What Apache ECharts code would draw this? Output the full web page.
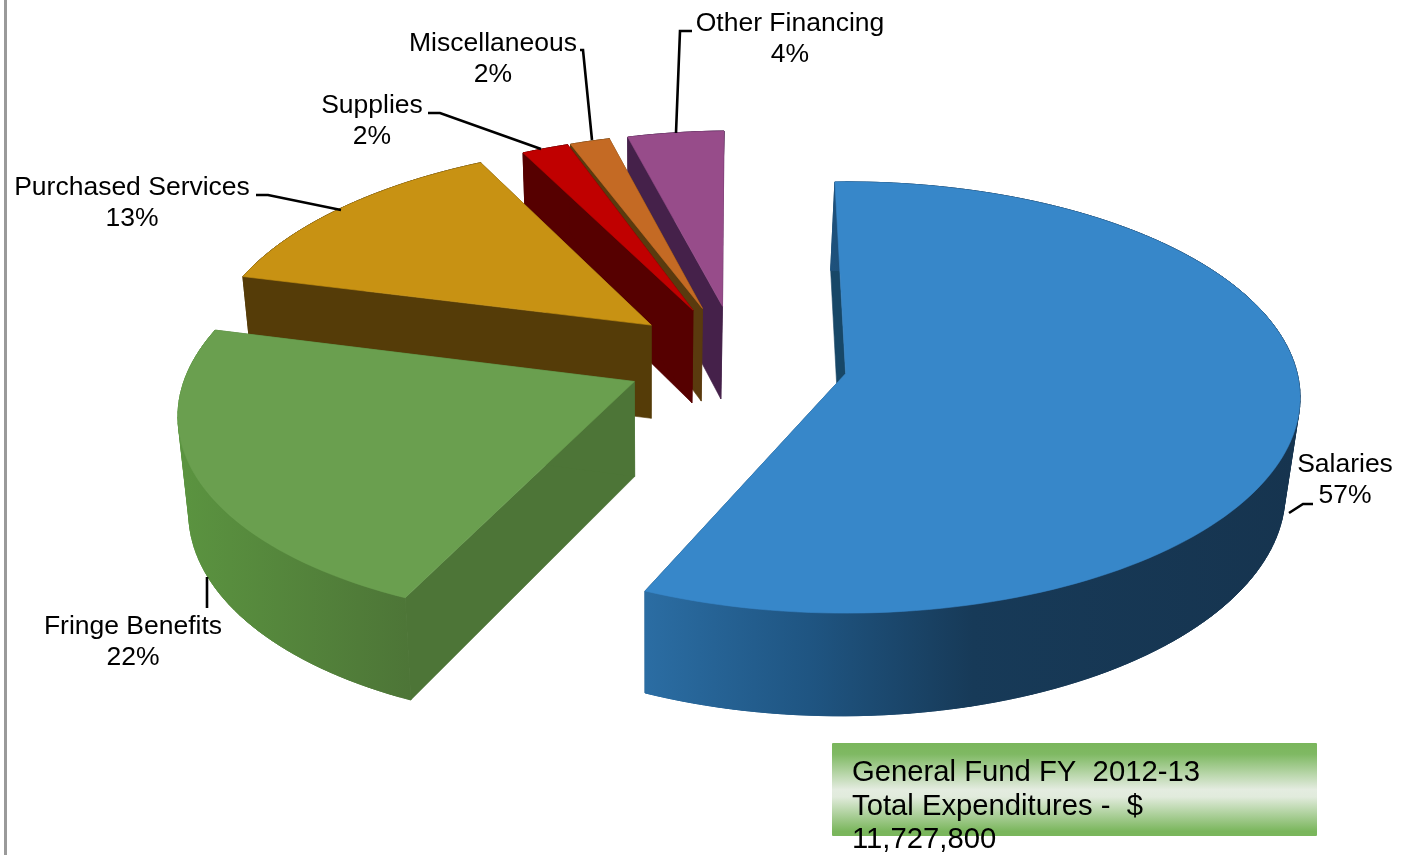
<!DOCTYPE html>
<html><head><meta charset="utf-8">
<style>html,body{margin:0;padding:0;background:#fff}#c{width:1401px;height:855px}</style>
<script src="https://cdn.jsdelivr.net/npm/echarts@6/dist/echarts.min.js"></script>
</head><body><div id="c"></div>
<script>
// ---- data ----
const categories = ['Salaries','Fringe Benefits','Purchased Services','Supplies','Miscellaneous','Other Financing'];
const values = [56.95,22.45,13.26,1.94,1.4,4.0];   // slice sizes
const percentLabels = ['57%','22%','13%','2%','2%','4%'];
const summaryLines = ['General Fund FY  2012-13','Total Expenditures -  $','11,727,800'];

// ---- styles ----
const topColors  = ['#3787c9','#6a9f4f','#c89213','#c00000','#c46a24','#974c8a'];
const wallColors = ['#174767','#4d7537','#553c08','#560000','#5a3a0e','#45214a'];
const rimStops = [
  [[0,'#2b6da3'],[0.25,'#1f5582'],[0.5,'#173a58'],[1,'#16344f']],
  [[0,'#5b9440'],[1,'#4d7537']],
  [[0,'#553c08'],[1,'#553c08']],
  [[0,'#560000'],[1,'#560000']],
  [[0,'#5a3a0e'],[1,'#5a3a0e']],
  [[0,'#45214a'],[1,'#45214a']]
];
const paintOrder = [5,4,3,2,1,0]; // far to near, by category index
const FONT = '"Liberation Sans", Arial, sans-serif';

// ---- 3D pie projection parameters ----
const P = {cx:845, cy:375, ax:452, ay:213.3, k:0.111, startDeg:-1.5,
           ox:-0.2416, oy:0.054, explode:0.2475,
           depth:95, depthGrow:0.033, depthY:380, vx:650, shrink:0.977};
const apexLift  = [0,0.023,0.033,0.035,0.035,0.035];
const apexShift = [0,0,-0.004,-0.004,-0.005,-0.002];
const rimScale  = [1,0.993,0.995,0.977,0.977,0.977];
const startPad  = [0,-0.7,0,0,0.9,0];   // small angular trim/overlap at a slice's leading edge

function project(x,y,bottom){
  const s = 1/(1+P.k*y);
  let X = P.cx + P.ax*x*s, Y = P.cy - P.ay*y*s;
  if(bottom){
    Y = Y + P.depth + (Y-P.depthY)*P.depthGrow;
    X = P.vx + (X-P.vx)*P.shrink;
  }
  return [X,Y];
}
const total = values.reduce((a,b)=>a+b,0);
function sliceStart(i){
  let before = 0;
  for(let j=0;j<i;j++) before += values[j];
  return P.startDeg + before/total*360;
}
function renderSlice(params, api){
  const i = params.dataIndex;
  const val = api.value(0);
  const a1 = sliceStart(i) + val/total*360;
  const a0 = sliceStart(i) - startPad[i];
  const mid = (a0+a1)/2*Math.PI/180;
  const ax = P.ox + P.explode*Math.sin(mid) + apexShift[i],
        ay = P.oy + P.explode*Math.cos(mid) + apexLift[i];
  const n = Math.max(4,Math.ceil((a1-a0)/1.5));
  const arc = [];
  for(let t=0;t<=n;t++){
    const d = (a0+(a1-a0)*t/n)*Math.PI/180;
    arc.push([ax+rimScale[i]*Math.sin(d), ay+rimScale[i]*Math.cos(d)]);
  }
  const top = arc.map(p=>project(p[0],p[1],false));
  const bot = arc.map(p=>project(p[0],p[1],true));
  const apexT = project(ax,ay,false), apexB = project(ax,ay,true);
  const z = paintOrder.indexOf(i)*10;
  const xs = top.concat(bot).map(p=>p[0]);
  const grad = {type:'linear',global:true,x:Math.min(...xs),y:0,x2:Math.max(...xs),y2:0,
    colorStops:rimStops[i].map(s=>({offset:s[0],color:s[1]}))};
  const poly = (pts,fill,zz)=>({type:'polygon',shape:{points:pts},z2:z+zz,
    style:{fill:fill,stroke:fill,lineWidth:0.6}});
  const children = [
    poly([apexT,top[0],bot[0],apexB],wallColors[i],1),
    poly([apexT,top[n],bot[n],apexB],wallColors[i],1),
    poly(top.concat(bot.slice().reverse()),grad,2)
  ];
  // overlapping strips so the rim's silhouette is continuous and seams never show
  for(let t=0;t<n;t++){
    const e = Math.min(n,t+2), pts=[];
    for(let q=t;q<=e;q++) pts.push(top[q]);
    for(let q=e;q>=t;q--) pts.push(bot[q]);
    children.push(poly(pts,grad,2));
  }
  children.push(poly([apexT].concat(top),topColors[i],3));
  return {type:'group',children};
}

// ---- annotation layout (category index -> label centre and leader path) ----
const labelLayout = [
  {x:1345,y:465,line:[[1289,513],[1303,504],[1313,504]]},
  {x:133,y:627,line:[[207,577],[207,608]]},
  {x:132,y:188,line:[[341,210],[268,195],[256,195]]},
  {x:372,y:106,line:[[541,149],[440,113],[428,113]]},
  {x:493,y:44,line:[[592,140],[583,50],[580,50]]},
  {x:790,y:24,line:[[676,133],[680,31],[692,31]]}
];
const graphics = [
  {type:'rect',shape:{x:4,y:0,width:3,height:855},style:{fill:'#9a9a9a'},silent:true},
  {type:'rect',shape:{x:832,y:743,width:485,height:93,r:1},
   style:{fill:{type:'linear',x:0,y:0,x2:0,y2:1,colorStops:[
     {offset:0,color:'#7ab65c'},{offset:0.12,color:'#7fb963'},{offset:0.5,color:'#e4ece0'},
     {offset:0.58,color:'#e1ebdc'},{offset:0.95,color:'#7ab65c'},{offset:1,color:'#7ab65c'}]}},z:5}
];
summaryLines.forEach((t,i)=>graphics.push({type:'text',x:852,y:773+i*33.5,z:6,
  style:{text:t,fill:'#000',font:'29.25px '+FONT,textAlign:'left',textVerticalAlign:'middle'}}));
categories.forEach((c,i)=>{
  const L = labelLayout[i];
  graphics.push({type:'polyline',z:7,shape:{points:L.line},style:{stroke:'#000',lineWidth:2.6,fill:null}});
  [c,percentLabels[i]].forEach((t,j)=>graphics.push({type:'text',x:L.x,y:L.y+j*31,z:7,
    style:{text:t,fill:'#000',font:'26.5px '+FONT,textAlign:'center',textVerticalAlign:'middle'}}));
});

const chart = echarts.init(document.getElementById('c'),null,{renderer:'canvas',width:1401,height:855});
chart.setOption({
  animation:false,
  backgroundColor:'#fff',
  series:[{type:'custom',coordinateSystem:'none',renderItem:renderSlice,silent:true,
    data:values.map((v,i)=>({name:categories[i],value:[v]}))}],
  graphic:graphics
});
</script></body></html>
